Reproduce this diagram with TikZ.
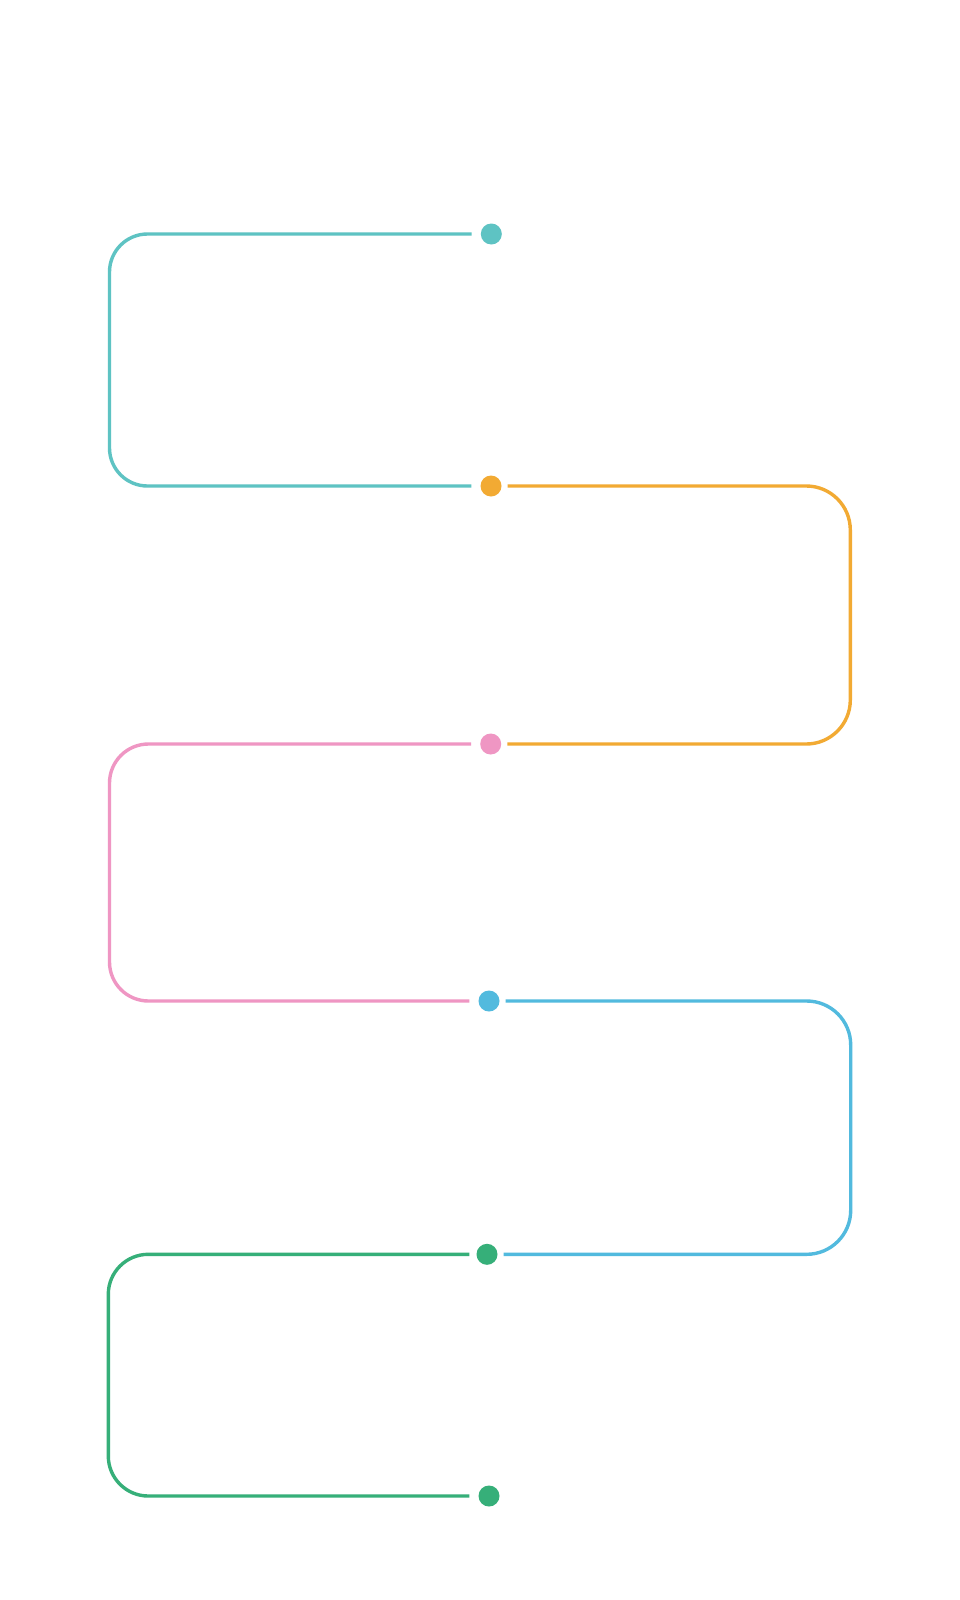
\documentclass[tikz,border=0pt]{standalone}
\definecolor{cteal}{RGB}{94,195,195}
\definecolor{corange}{RGB}{242,170,51}
\definecolor{cpink}{RGB}{239,150,195}
\definecolor{cblue}{RGB}{82,186,222}
\definecolor{cgreen}{RGB}{54,175,121}
\tikzset{
  dot/.style={circle,inner sep=0pt,minimum size=21pt,draw=none},
  link/.style={line width=3.4pt}
}
\begin{document}
\begin{tikzpicture}[x=1pt,y=-1pt]
\useasboundingbox (0,0) rectangle (960,1600);
\fill[white] (0,0) rectangle (960,1600);
% dots
\node[dot,fill=cteal]   (d1) at (491.3,234) {};
\node[dot,fill=corange] (d2) at (491,486) {};
\node[dot,fill=cpink]   (d3) at (490.7,744) {};
\node[dot,fill=cblue]   (d4) at (489,1001) {};
\node[dot,fill=cgreen]  (d5) at (487,1254.3) {};
\node[dot,fill=cgreen]  (d6) at (489,1496) {};
% turning columns
\coordinate (L1) at (109.5,360);
\coordinate (R1) at (850.3,615);
\coordinate (L2) at (109.5,872);
\coordinate (R2) at (850.7,1127);
\coordinate (L3) at (108.3,1375);
% connectors
\draw[link,cteal,rounded corners=38pt]
  ([xshift=-9pt]d1.west) -| (L1) |- ([xshift=-9pt]d2.west);
\draw[link,corange,rounded corners=44pt]
  ([xshift=6pt]d2.east) -| (R1) |- ([xshift=6pt]d3.east);
\draw[link,cpink,rounded corners=39pt]
  ([xshift=-9pt]d3.west) -| (L2) |- ([xshift=-9pt]d4.west);
\draw[link,cblue,rounded corners=44pt]
  ([xshift=6pt]d4.east) -| (R2) |- ([xshift=6pt]d5.east);
\draw[link,cgreen,rounded corners=40pt]
  ([xshift=-7pt]d5.west) -| (L3) |- ([xshift=-9pt]d6.west);
\end{tikzpicture}
\end{document}
